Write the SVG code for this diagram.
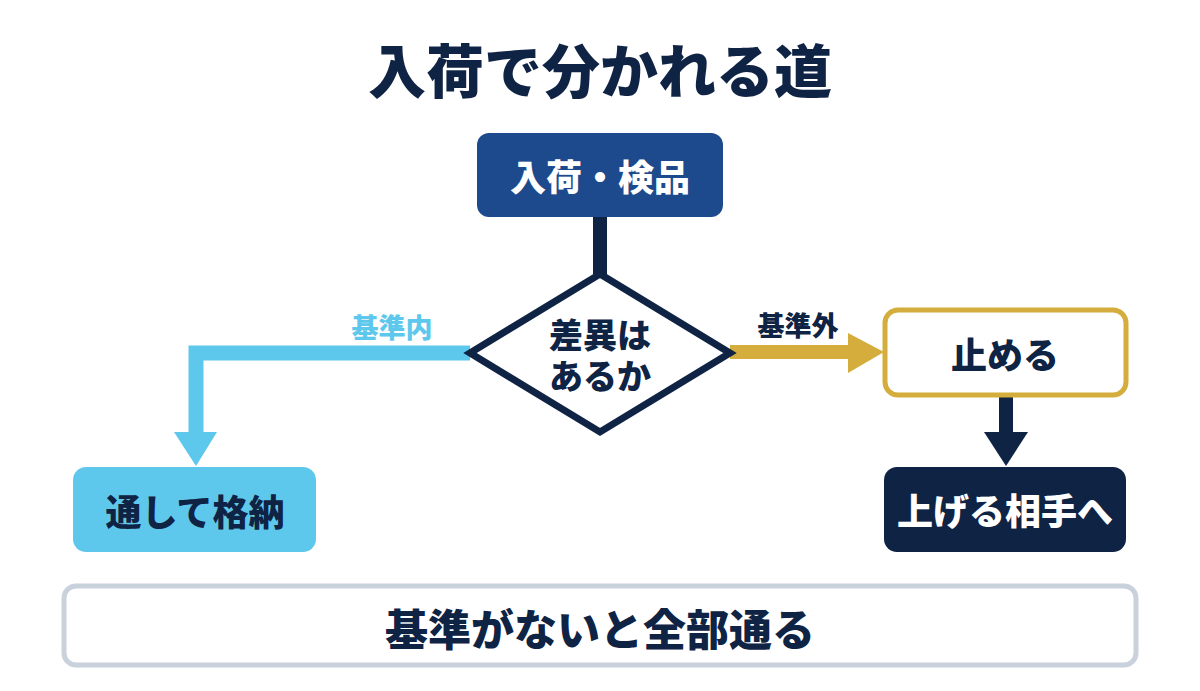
<svg xmlns="http://www.w3.org/2000/svg" width="1200" height="691" viewBox="0 0 1200 691">
  <style>
    text { font-family: "Noto Sans CJK JP", "Noto Sans", sans-serif; font-weight: 900; text-anchor: middle; dominant-baseline: central; }
    .navy { fill: #0f2344; }
    .white { fill: #ffffff; }
    .node { font-size: 36px; }
    .lbl { font-size: 27px; font-weight: 800; }
  </style>
  <rect width="1200" height="691" fill="#ffffff"/>
  <text id="title" x="600" y="68" class="navy" style="font-size:58px">入荷で分かれる道</text>

  <g id="connectors">
    <rect x="593" y="216" width="14" height="58" fill="#0f2344"/>
    <path d="M470,353 H196 V434" fill="none" stroke="#5ec8ec" stroke-width="15"/>
    <polygon points="174,432 217,432 196,466" fill="#5ec8ec"/>
    <text x="392" y="326" class="lbl" fill="#5ec8ec">基準内</text>
    <path d="M730,352 H852" fill="none" stroke="#d4ad3c" stroke-width="14"/>
    <polygon points="848,333 884,352 848,373" fill="#d4ad3c"/>
    <text x="798" y="324" class="lbl navy">基準外</text>
    <rect x="999" y="396" width="14" height="38" fill="#0f2344"/>
    <polygon points="984,432 1028,432 1006,466" fill="#0f2344"/>
  </g>

  <g id="node-inspect">
    <rect x="477" y="133" width="246" height="84" rx="12" fill="#1d4a8c"/>
    <text x="600" y="175" class="node white">入荷・検品</text>
  </g>

  <g id="node-decision">
    <polygon points="600,274 730,353 600,432 470,353" fill="#ffffff" stroke="#0f2344" stroke-width="7" stroke-linejoin="miter"/>
    <text class="navy" style="font-size:34px"><tspan x="600" y="333">差異は</tspan><tspan x="600" y="374">あるか</tspan></text>
  </g>

  <g id="node-store">
    <rect x="73" y="467" width="243" height="85" rx="13" fill="#5ec8ec"/>
    <text x="195" y="510" class="node navy">通して格納</text>
  </g>

  <g id="node-stop">
    <rect x="885" y="310" width="241" height="85" rx="13" fill="#ffffff" stroke="#d4ad3c" stroke-width="5"/>
    <text x="1005" y="353" class="node navy">止める</text>
  </g>

  <g id="node-escalate">
    <rect x="884" y="467" width="242" height="85" rx="13" fill="#0f2344"/>
    <text x="1005" y="509" class="node white">上げる相手へ</text>
  </g>

  <g id="note">
    <rect x="64" y="586" width="1072" height="79" rx="12" fill="#ffffff" stroke="#c9d1dd" stroke-width="5"/>
    <text x="600" y="627" class="navy" style="font-size:43px">基準がないと全部通る</text>
  </g>
</svg>
